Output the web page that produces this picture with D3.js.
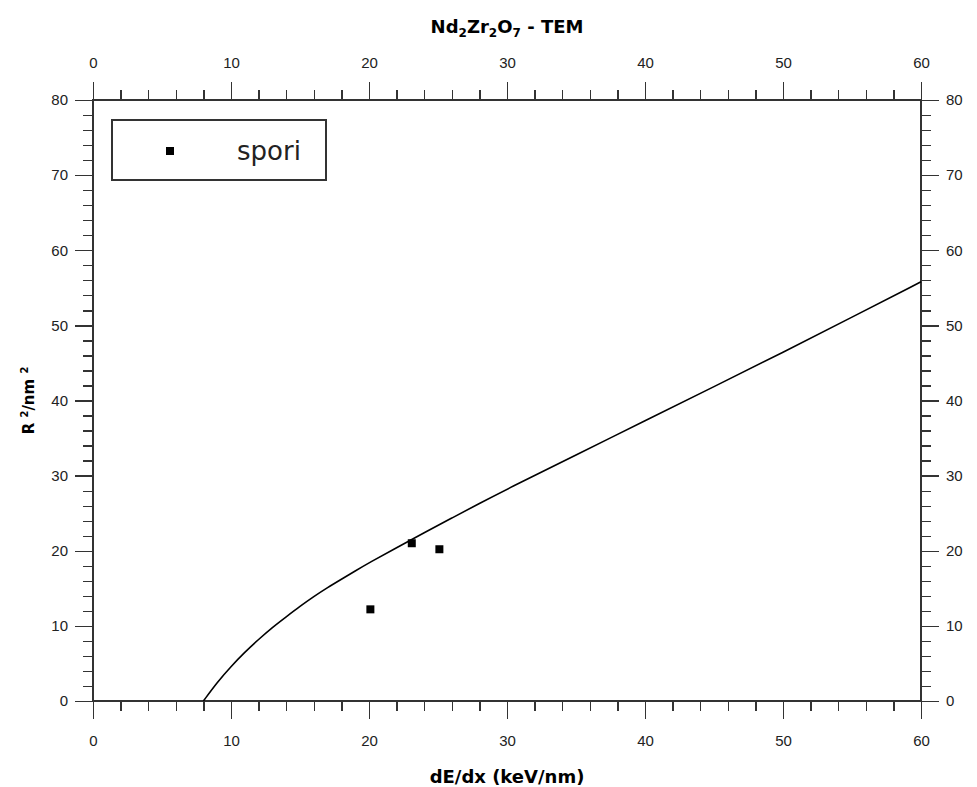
<!DOCTYPE html>
<html>
<head>
<meta charset="utf-8">
<title>Nd2Zr2O7 - TEM</title>
<style>
  body { margin: 0; background: #fff; }
  svg { display: block; font-family: "DejaVu Sans", sans-serif; }
  .axis text { font-size: 15px; fill: #222; }
  .axis line { stroke: #333; stroke-width: 1.3; shape-rendering: crispEdges; }
  .frame { fill: none; stroke: #333; stroke-width: 1.5; shape-rendering: crispEdges; }
</style>
</head>
<body>
<div id="chart"></div>
<script src="https://cdn.jsdelivr.net/npm/d3@7"></script>
<script>
// fitted curve
var curveX = [8, 9, 10, 11, 12, 13, 14, 15, 16, 17, 18, 19, 20, 22, 24, 26, 28, 30, 35, 40, 45, 50, 55, 60];
var curveY = [0, 2.5, 4.6, 6.5, 8.2, 9.8, 11.2, 12.6, 13.9, 15.1, 16.2, 17.3, 18.4, 20.4, 22.4, 24.35, 26.3, 28.2, 32.75, 37.3, 41.85, 46.4, 51.1, 55.8];

// measured points ("spori")
var poriX = [20.1, 23.1, 25.1];
var poriY = [12.2, 21.0, 20.2];

var xMajor = [0, 10, 20, 30, 40, 50, 60];
var yMajor = [0, 10, 20, 30, 40, 50, 60, 70, 80];

var W = 977, H = 787;
var margin = {top: 100, right: 56, bottom: 86, left: 93};
var width = W - margin.left - margin.right,
    height = H - margin.top - margin.bottom;

var svg = d3.select("#chart").append("svg")
    .attr("width", W)
    .attr("height", H);

var g = svg.append("g")
    .attr("transform", "translate(" + margin.left + "," + margin.top + ")");

var x = d3.scaleLinear().domain([0, 60]).range([0, width]);
var y = d3.scaleLinear().domain([0, 80]).range([height, 0]);

var xMinor = d3.range(0, 61, 2).filter(function(d){ return d % 10 !== 0; });
var yMinor = d3.range(0, 81, 2).filter(function(d){ return d % 10 !== 0; });

function addAxis(axisFn, scale, major, minor, tr, pad) {
    var a = g.append("g").attr("class", "axis").attr("transform", tr);
    a.call(axisFn(scale).tickValues(major).tickSize(18).tickSizeOuter(0).tickPadding(pad));
    a.select(".domain").remove();
    var m = g.append("g").attr("class", "axis").attr("transform", tr);
    m.call(axisFn(scale).tickValues(minor).tickSize(10).tickSizeOuter(0).tickFormat(""));
    m.select(".domain").remove();
    return a;
}

addAxis(d3.axisBottom, x, xMajor, xMinor, "translate(0," + height + ")", 16);
addAxis(d3.axisTop, x, xMajor, xMinor, "translate(0,0)", 14);
addAxis(d3.axisLeft, y, yMajor, yMinor, "translate(0,0)", 7);
addAxis(d3.axisRight, y, yMajor, yMinor, "translate(" + width + ",0)", 7);

g.append("rect")
    .attr("class", "frame")
    .attr("x", 0).attr("y", 0)
    .attr("width", width).attr("height", height);

// curve
var line = d3.line()
    .x(function(d){ return x(d[0]); })
    .y(function(d){ return y(d[1]); })
    .curve(d3.curveBasis);

g.append("path")
    .datum(curveX.map(function(v, i){ return [v, curveY[i]]; }))
    .attr("d", line)
    .attr("fill", "none")
    .attr("stroke", "#000")
    .attr("stroke-width", 1.6);

// points
var s = 8;
g.selectAll(".pt")
    .data(poriX.map(function(v, i){ return [v, poriY[i]]; }))
    .enter().append("rect")
    .attr("class", "pt")
    .attr("x", function(d){ return x(d[0]) - s/2; })
    .attr("y", function(d){ return y(d[1]) - s/2; })
    .attr("width", s).attr("height", s)
    .attr("fill", "#000");

// legend
var leg = g.append("g").attr("transform", "translate(19,20)");
leg.append("rect")
    .attr("width", 214).attr("height", 60)
    .attr("fill", "#fff").attr("stroke", "#333").attr("stroke-width", 1.5)
    .style("shape-rendering", "crispEdges");
leg.append("rect")
    .attr("x", 54).attr("y", 27).attr("width", s).attr("height", s)
    .attr("fill", "#000");
leg.append("text")
    .attr("x", 125).attr("y", 40)
    .style("font-size", "26px")
    .style("fill", "#222")
    .text("spori");

// title
var title = svg.append("text")
    .attr("x", margin.left + width / 2)
    .attr("y", 33)
    .attr("text-anchor", "middle")
    .style("font-size", "18px")
    .style("font-weight", "bold");
title.append("tspan").text("Nd");
title.append("tspan").attr("dy", 4).style("font-size", "12px").text("2");
title.append("tspan").attr("dy", -4).text("Zr");
title.append("tspan").attr("dy", 4).style("font-size", "12px").text("2");
title.append("tspan").attr("dy", -4).text("O");
title.append("tspan").attr("dy", 4).style("font-size", "12px").text("7");
title.append("tspan").attr("dy", -4).text(" - TEM");

// x label
svg.append("text")
    .attr("x", margin.left + width / 2)
    .attr("y", 783)
    .attr("text-anchor", "middle")
    .style("font-size", "18px")
    .style("font-weight", "bold")
    .text("dE/dx (keV/nm)");

// y label
var yl = svg.append("text")
    .attr("transform", "translate(34," + (margin.top + height / 2) + ") rotate(-90)")
    .attr("text-anchor", "middle")
    .style("font-size", "15px")
    .style("font-weight", "bold");
yl.append("tspan").text("R ");
yl.append("tspan").attr("dy", -6).style("font-size", "10px").text("2");
yl.append("tspan").attr("dy", 6).text("/nm ");
yl.append("tspan").attr("dy", -6).style("font-size", "10px").text("2");
</script>
</body>
</html>
